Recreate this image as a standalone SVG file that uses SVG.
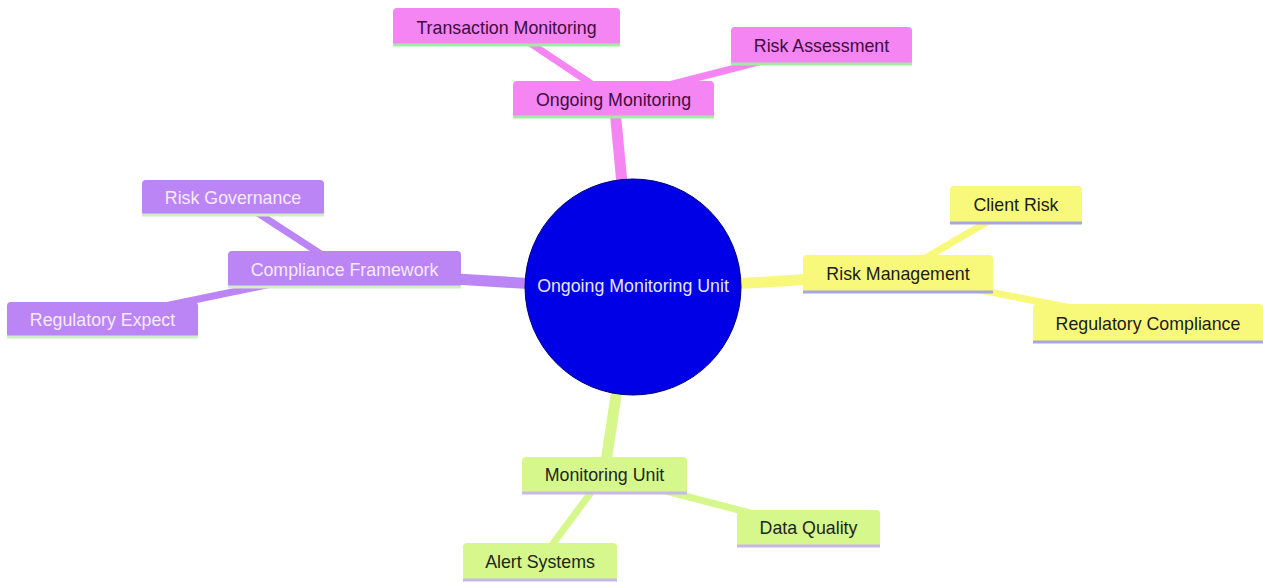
<svg xmlns="http://www.w3.org/2000/svg" width="1263" height="582" viewBox="0 0 1263 582">
<style>
  text { font-family: "Liberation Sans", Arial, sans-serif; font-size: 17.8px; text-anchor: middle; dominant-baseline: central; }
  .e0 { stroke-width: 11; stroke-linecap: butt; fill: none; }
  .e1 { stroke-width: 7; stroke-linecap: butt; fill: none; }
  .pink { stroke: #f585f3; }
  .purple { stroke: #bb85f6; }
  .yellow { stroke: #f8f87a; }
  .green { stroke: #d6f78c; }
  .bpink { fill: #f585f3; }
  .bpurple { fill: #bb85f6; }
  .byellow { fill: #f8f87a; }
  .bgreen { fill: #d6f78c; }
  .lpink { stroke: #a3eba3; stroke-width: 3; }
  .lpurple { stroke: #cdeec6; stroke-width: 3; }
  .lyellow { stroke: #a6a6e4; stroke-width: 3; }
  .lgreen { stroke: #c6b8ea; stroke-width: 3; }
  .tpink { fill: #3f0c40; }
  .tpurple { fill: #f5ebff; }
  .tyellow { fill: #1c1c1c; }
  .tgreen { fill: #1c261c; }
</style>
<rect width="1263" height="582" fill="#ffffff"/>
<g id="connectors">
  <line class="e0 pink" x1="632" y1="290" x2="614" y2="99"/>
  <line class="e0 purple" x1="632" y1="290" x2="344" y2="272"/>
  <line class="e0 yellow" x1="632" y1="290" x2="898" y2="274"/>
  <line class="e0 green" x1="632" y1="290" x2="604" y2="475"/>
  <line class="e1 pink" x1="614" y1="99" x2="506" y2="27"/>
  <line class="e1 pink" x1="614" y1="99" x2="821" y2="46"/>
  <line class="e1 purple" x1="344" y1="269" x2="233" y2="197"/>
  <line class="e1 purple" x1="344" y1="269" x2="102" y2="319"/>
  <line class="e1 yellow" x1="898" y1="274" x2="1016" y2="205"/>
  <line class="e1 yellow" x1="898" y1="274" x2="1148" y2="323"/>
  <line class="e1 green" x1="604" y1="475" x2="540" y2="561"/>
  <line class="e1 green" x1="604" y1="475" x2="808" y2="528"/>
</g>
<g id="root">
  <circle cx="633" cy="287" r="108" fill="#0000e6" stroke="#00007a" stroke-width="1"/>
  <text x="633" y="286" fill="#e4e4f6">Ongoing Monitoring Unit</text>
</g>
<g id="ongoing-monitoring">
  <rect class="bpink" x="513" y="81" width="201" height="37" rx="4"/>
  <line class="lpink" x1="513" y1="117" x2="714" y2="117"/>
  <text class="tpink" x="613.5" y="99.5">Ongoing Monitoring</text>
</g>
<g id="transaction-monitoring">
  <rect class="bpink" x="393" y="8" width="227" height="38" rx="4"/>
  <line class="lpink" x1="393" y1="45" x2="620" y2="45"/>
  <text class="tpink" x="506.5" y="27.5">Transaction Monitoring</text>
</g>
<g id="risk-assessment">
  <rect class="bpink" x="731" y="27" width="181" height="38" rx="4"/>
  <line class="lpink" x1="731" y1="64" x2="912" y2="64"/>
  <text class="tpink" x="821.5" y="46">Risk Assessment</text>
</g>
<g id="compliance-framework">
  <rect class="bpurple" x="228" y="251" width="233" height="37" rx="4"/>
  <line class="lpurple" x1="228" y1="287" x2="461" y2="287"/>
  <text class="tpurple" x="344.5" y="269.5">Compliance Framework</text>
</g>
<g id="risk-governance">
  <rect class="bpurple" x="142" y="180" width="182" height="36" rx="4"/>
  <line class="lpurple" x1="142" y1="215" x2="324" y2="215"/>
  <text class="tpurple" x="233" y="198">Risk Governance</text>
</g>
<g id="regulatory-expect">
  <rect class="bpurple" x="7" y="302" width="191" height="36" rx="4"/>
  <line class="lpurple" x1="7" y1="337" x2="198" y2="337"/>
  <text class="tpurple" x="102.5" y="320">Regulatory Expect</text>
</g>
<g id="risk-management">
  <rect class="byellow" x="803" y="255" width="190" height="38" rx="4"/>
  <line class="lyellow" x1="803" y1="292" x2="993" y2="292"/>
  <text class="tyellow" x="898" y="273.5">Risk Management</text>
</g>
<g id="client-risk">
  <rect class="byellow" x="950" y="186" width="132" height="38" rx="4"/>
  <line class="lyellow" x1="950" y1="223" x2="1082" y2="223"/>
  <text class="tyellow" x="1016" y="204.5">Client Risk</text>
</g>
<g id="regulatory-compliance">
  <rect class="byellow" x="1033" y="304" width="230" height="39" rx="4"/>
  <line class="lyellow" x1="1033" y1="342" x2="1263" y2="342"/>
  <text class="tyellow" x="1148" y="323.5">Regulatory Compliance</text>
</g>
<g id="monitoring-unit">
  <rect class="bgreen" x="522" y="457" width="165" height="37" rx="4"/>
  <line class="lgreen" x1="522" y1="493" x2="687" y2="493"/>
  <text class="tgreen" x="604.5" y="475">Monitoring Unit</text>
</g>
<g id="data-quality">
  <rect class="bgreen" x="737" y="510" width="143" height="37" rx="4"/>
  <line class="lgreen" x1="737" y1="546" x2="880" y2="546"/>
  <text class="tgreen" x="808.5" y="528">Data Quality</text>
</g>
<g id="alert-systems">
  <rect class="bgreen" x="463" y="543" width="154" height="38" rx="4"/>
  <line class="lgreen" x1="463" y1="580" x2="617" y2="580"/>
  <text class="tgreen" x="540" y="561.5">Alert Systems</text>
</g>
</svg>
